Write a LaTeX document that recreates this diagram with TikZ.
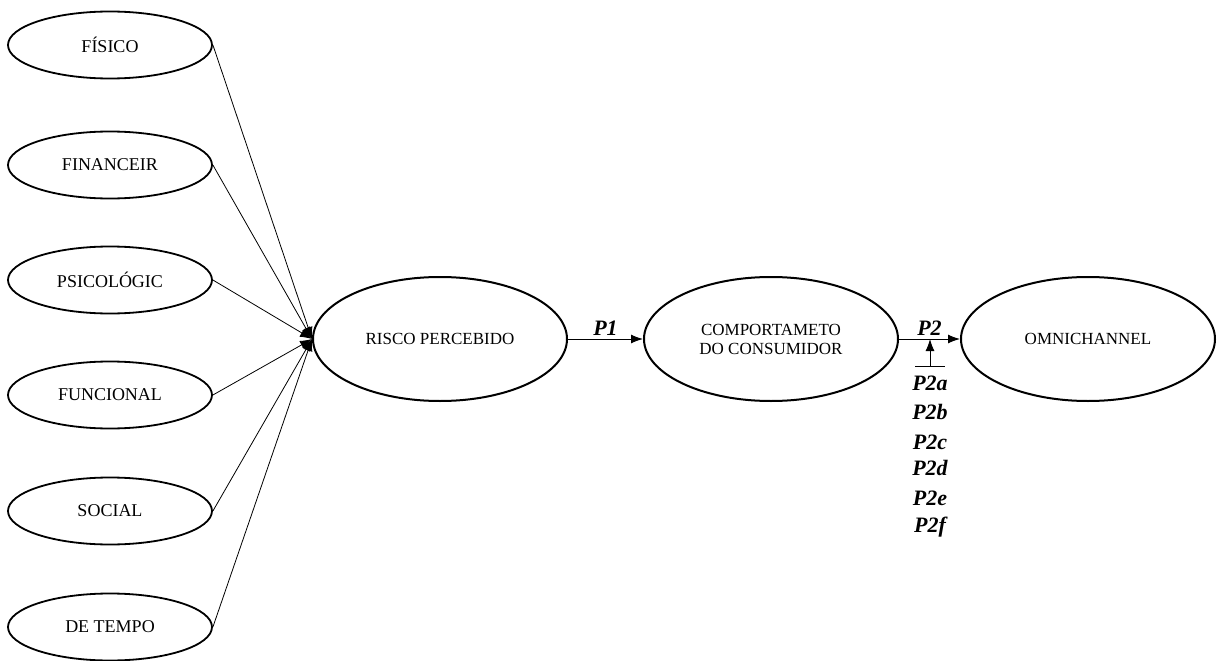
\documentclass[tikz,border=0pt]{standalone}
\usepackage{fontspec}
\setmainfont{Liberation Serif}
\usetikzlibrary{arrows.meta, shapes.geometric}

\begin{document}
\begin{tikzpicture}[x=1pt, y=-1pt,
  fator/.style={draw, ellipse, line width=1.8pt, minimum width=204pt, minimum height=67pt, inner sep=0pt, font=\fontsize{18}{20}\selectfont},
  construto/.style={draw, ellipse, line width=2pt, minimum width=254pt, minimum height=124pt, inner sep=0pt, align=center, font=\fontsize{17}{19}\selectfont},
  seta/.style={-{Latex[length=12pt,width=9pt]}, line width=1pt},
  rotulo/.style={font=\fontsize{22}{24}\selectfont\bfseries\itshape}]
\useasboundingbox (0,0) rectangle (1219,661);

% Dimensoes do risco
\node[fator] (fisico) at (110,45) {FÍSICO};
\node[fator] (financeiro) at (110,165) {FINANCEIR};
\node[fator] (psicologico) at (110,280) {PSICOLÓGIC};
\node[fator] (funcional) at (110,395) {FUNCIONAL};
\node[fator] (social) at (110,511) {SOCIAL};
\node[fator] (tempo) at (110,627) {DE TEMPO};

% Construtos
\node[construto] (risco) at (440,339) {RISCO PERCEBIDO};
\node[construto] (comp) at (771,339) {COMPORTAMETO\\DO CONSUMIDOR};
\node[construto] (omni) at (1088,339) {OMNICHANNEL};

% Ligacoes ao risco percebido
\foreach \f in {fisico, financeiro, psicologico, funcional, social, tempo} {
    \draw[seta, line width=0.8pt] (\f.east) -- (risco.west);
}

\draw[seta] (risco) -- node[rotulo, above] {P1} (comp);
\draw[seta] (comp) -- node[rotulo, above] {P2} (omni);

% Moderadores
\coordinate (meio) at (930,339);
\coordinate (mod) at (930,366);
\draw[line width=1pt] ([xshift=-15pt]mod) -- ([xshift=15pt]mod);
\draw[seta] (mod) -- (meio);
\foreach \l/\y in {a/383, b/412, c/442, d/468, e/498, f/527} {
    \node[rotulo] (p2\l) at (930,\y) {P2\l};
}
\end{tikzpicture}
\end{document}
